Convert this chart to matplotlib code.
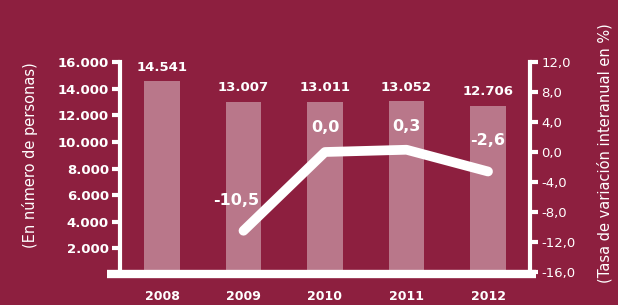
import matplotlib.pyplot as plt
from matplotlib.lines import Line2D

years = ['2008', '2009', '2010', '2011', '2012']
personas = [14541, 13007, 13011, 13052, 12706]
personas_txt = ['14.541', '13.007', '13.011', '13.052', '12.706']
tasa_years = [1, 2, 3, 4]  # index into years, 2008 has no rate
tasa = [-10.5, 0.0, 0.3, -2.6]
tasa_txt = ['-10,5', '0,0', '0,3', '-2,6']

left_ticks = [2000, 4000, 6000, 8000, 10000, 12000, 14000, 16000]
left_tick_txt = ['2.000', '4.000', '6.000', '8.000', '10.000', '12.000', '14.000', '16.000']
right_ticks = [-16, -12, -8, -4, 0, 4, 8, 12]
right_tick_txt = ['-16,0', '-12,0', '-8,0', '-4,0', '0,0', '4,0', '8,0', '12,0']

BG = '#8d1f3f'
BAR = '#b9778a'
W = 'white'
FONT = 'DejaVu Sans'

plt.rcParams['font.family'] = FONT

fig = plt.figure(figsize=(6.18, 3.05), dpi=100, facecolor=BG)
ax = fig.add_axes([120 / 618, 30 / 305, 410 / 618, 213 / 305])
ax.set_facecolor(BG)

x = list(range(len(years)))
ax.bar(x, personas, width=0.43, color=BAR, zorder=2)
ax.set_xlim(-0.515, 4.515)
ax.set_ylim(0, 16000)

for xi, v, t in zip(x, personas, personas_txt):
    ax.annotate(t, (xi, v), xytext=(0, 10), textcoords='offset points',
                ha='center', va='center', color=W, fontsize=9.5,
                fontweight='bold', zorder=5)

for s in ['top', 'bottom', 'right']:
    ax.spines[s].set_visible(False)
ax.spines['left'].set_color(W)
ax.spines['left'].set_linewidth(3)

ax.set_yticks(left_ticks)
ax.set_yticklabels(left_tick_txt)
ax.tick_params(axis='y', colors=W, length=6, width=3, pad=2, labelsize=9.5)
for lab in ax.get_yticklabels():
    lab.set_fontweight('bold')

ax.set_xticks(x)
ax.set_xticklabels(years)
ax.tick_params(axis='x', colors=W, length=0, pad=11, labelsize=9)
for lab in ax.get_xticklabels():
    lab.set_fontweight('bold')

ax2 = ax.twinx()
ax2.set_ylim(-16.4, 12)
for s in ['top', 'bottom', 'left']:
    ax2.spines[s].set_visible(False)
ax2.spines['right'].set_color(W)
ax2.spines['right'].set_linewidth(3)
ax2.set_yticks(right_ticks)
ax2.set_yticklabels(right_tick_txt)
ax2.tick_params(axis='y', colors=W, length=6, width=3, pad=2, labelsize=9.5)

ax2.plot(tasa_years, tasa, color=W, lw=7, solid_capstyle='round',
         solid_joinstyle='round', zorder=4)

offs = [(-5, 22), (0, 18), (0, 17), (0, 22)]
for xi, v, t, o in zip(tasa_years, tasa, tasa_txt, offs):
    ax2.annotate(t, (xi, v), xytext=o, textcoords='offset points',
                 ha='center', va='center', color=W, fontsize=11.5,
                 fontweight='bold', zorder=5)

# thick white baseline
fig.add_artist(Line2D([107 / 618, 536 / 618], [31.5 / 305, 31.5 / 305],
                      color=W, lw=6, solid_capstyle='butt'))

fig.text(30 / 618, 150 / 305, '(En número de personas)', rotation=90,
         ha='center', va='center', color=W, fontsize=10.5)
fig.text(605 / 618, 152 / 305, '(Tasa de variación interanual en %)', rotation=90,
         ha='center', va='center', color=W, fontsize=10.5)

fig.savefig('out.png', dpi=100, facecolor=BG)
